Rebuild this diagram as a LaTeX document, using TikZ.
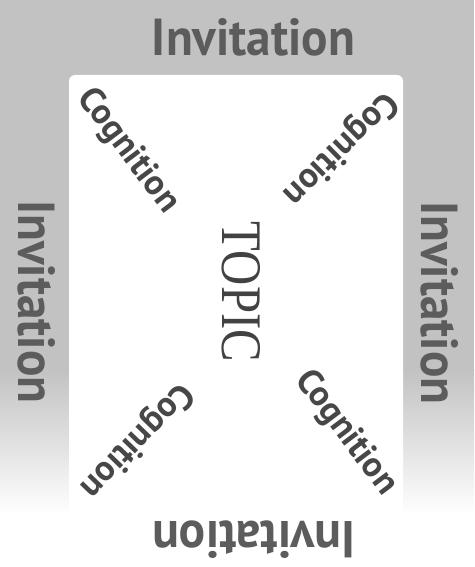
\documentclass[tikz,border=0pt]{standalone}
\usepackage{fontspec}
\setmainfont{Liberation Serif}
\newfontfamily\invfont{PT Sans}
\newfontfamily\cogfont{PT Sans}
\usepackage{graphicx}
\definecolor{framegray}{gray}{0.76}
\definecolor{invgray}{gray}{0.36}
\definecolor{coggray}{gray}{0.28}
\definecolor{topicgray}{gray}{0.26}
\tikzset{
  invlabel/.style={inner sep=0pt, text=invgray},
  coglabel/.style={inner sep=0pt, text=coggray},
  topiclabel/.style={inner sep=0pt, text=topicgray},
}
\newcommand{\invtext}{\resizebox{203pt}{37pt}{\invfont\bfseries Invitation}}
\newcommand{\cogtext}{\resizebox{146pt}{!}{\cogfont\bfseries Cognition}}
\begin{document}
\begin{tikzpicture}[x=1pt,y=-1pt]
  \useasboundingbox (0,0) rectangle (474,567);
  % background frame fading downward
  \fill[white] (0,0) rectangle (474,567);
  \fill[framegray] (0,0) rectangle (474,370);
  \shade[top color=framegray, bottom color=white] (0,369) rectangle (474,515);
  % inner white panel
  \fill[white, rounded corners=6pt] (69,75) rectangle (403,600);
  % Invitation labels
  \node[invlabel] (invtop) at (253.5,37) {\invtext};
  \node[invlabel, rotate=-90] (invleft) at (37,302) {\invtext};
  \node[invlabel, rotate=-90] (invright) at (440,303) {\invtext};
  \node[invlabel, rotate=180] (invbottom) at (254,540) {\invtext};
  % Topic
  \node[topiclabel, rotate=-90] (topic) at (241,292) {\resizebox{140pt}{38pt}{TOPIC}};
  % Cognition labels
  \node[coglabel, rotate=-53] (cogtl) at (128,151) {\cogtext};
  \node[coglabel, rotate=-135.5] (cogtr) at (340,148) {\cogtext};
  \node[coglabel, rotate=-134] (cogbl) at (136,440) {\cogtext};
  \node[coglabel, rotate=-53] (cogbr) at (346,433) {\cogtext};
\end{tikzpicture}
\end{document}
